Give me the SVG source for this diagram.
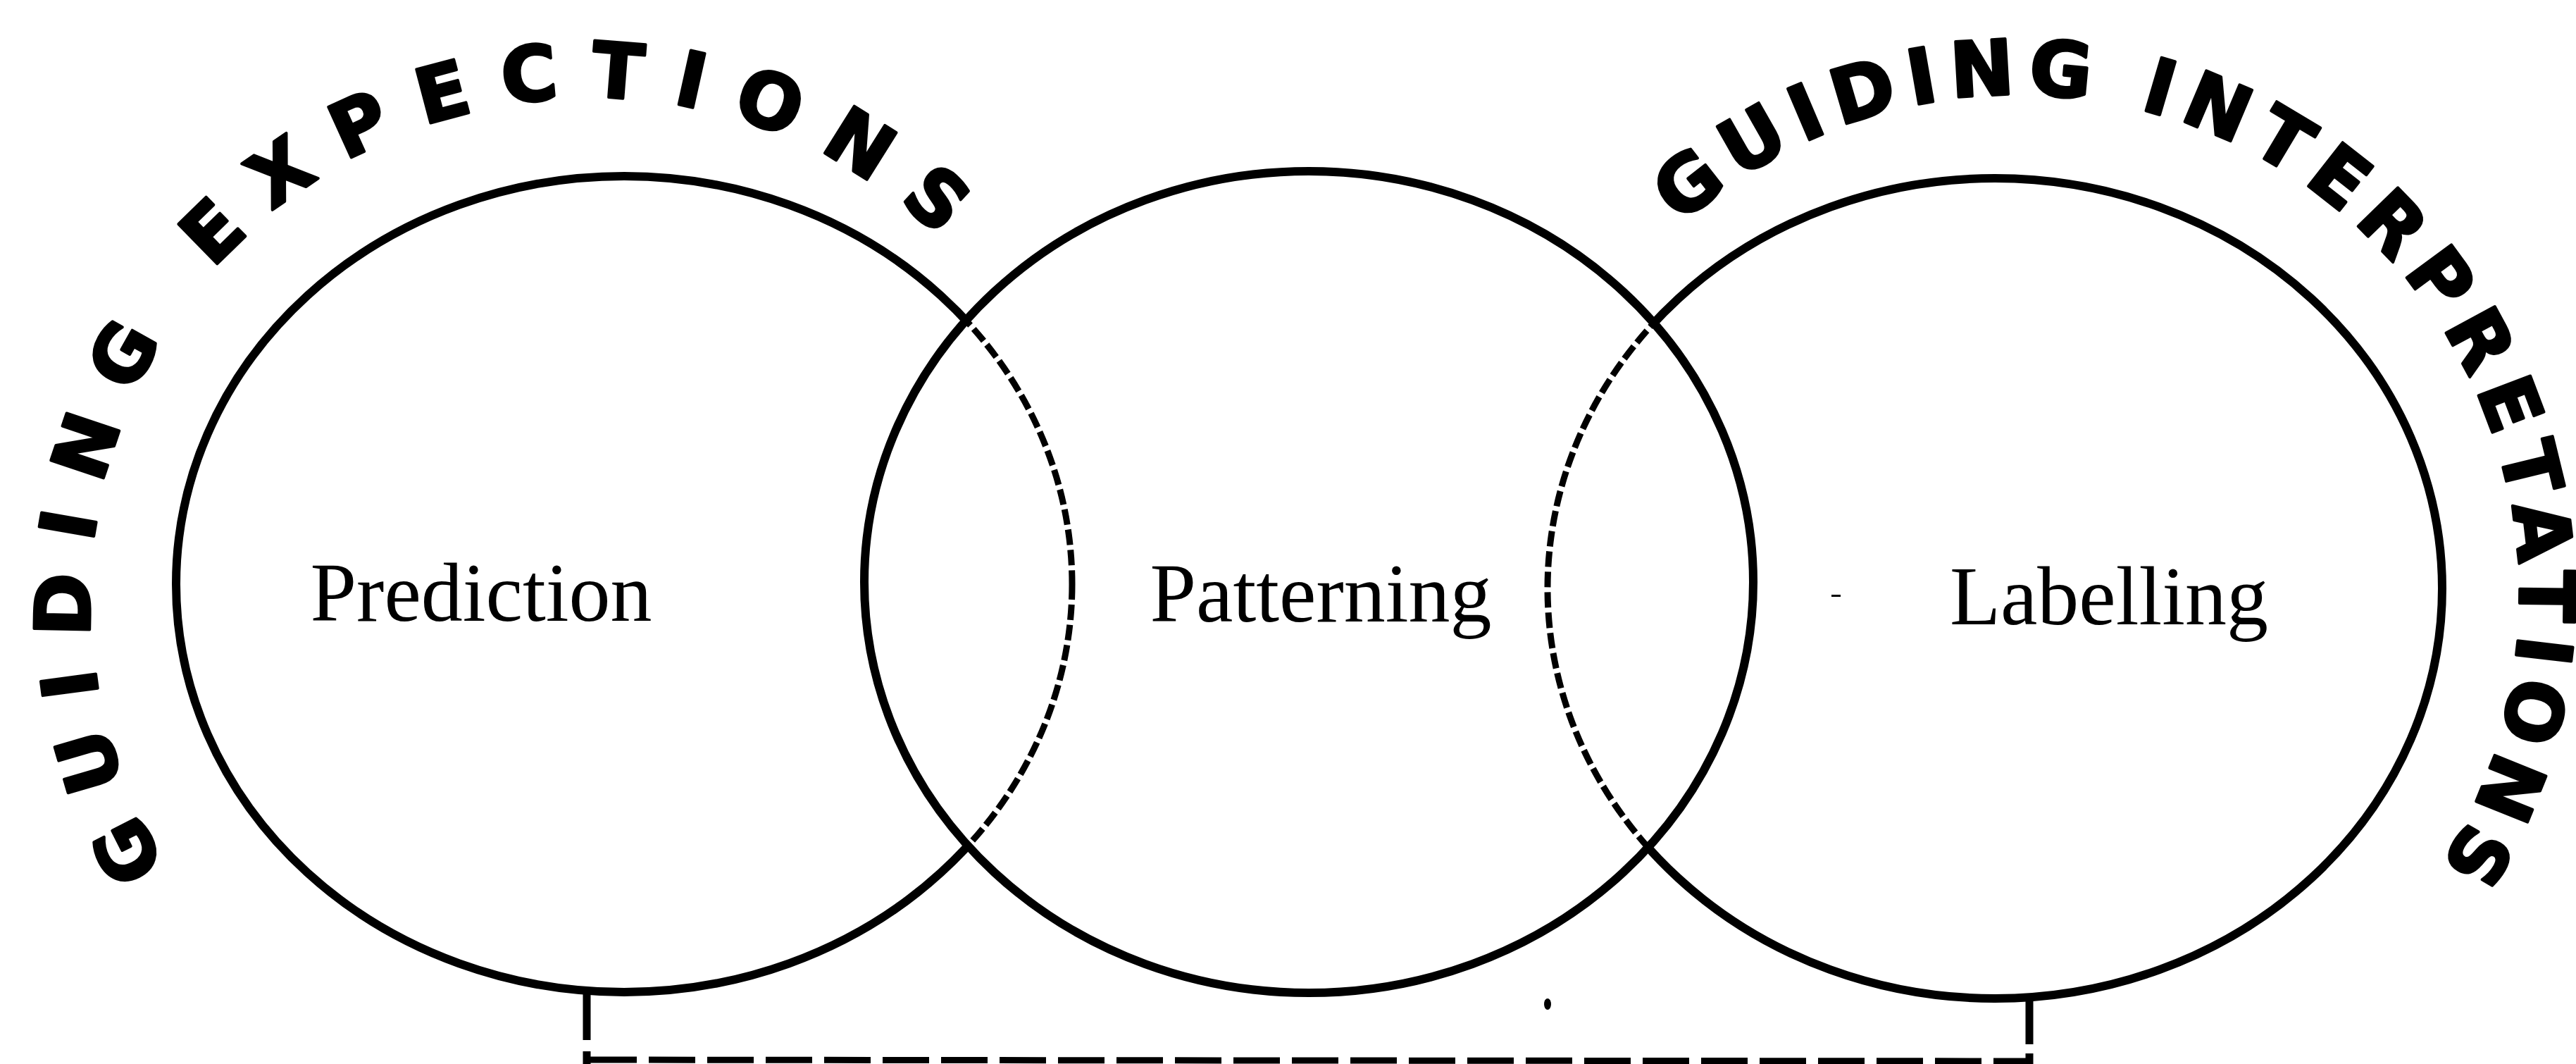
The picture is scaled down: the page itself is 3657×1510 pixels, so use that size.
<svg xmlns="http://www.w3.org/2000/svg" xmlns:xlink="http://www.w3.org/1999/xlink" width="3657" height="1510" viewBox="0 0 3657 1510">
  <style>
    .ring { fill: none; stroke: #000; stroke-width: 12; }
    .ring-dash { fill: none; stroke: #000; stroke-width: 9; stroke-dasharray: 22 7; }
    .label { font-family: "Liberation Serif", "Times New Roman", serif; font-size: 118px; fill: #000; text-anchor: middle; }
    .arc-text { font-family: "DejaVu Sans", "Liberation Sans", sans-serif; font-weight: bold; font-size: 108px; fill: #000; stroke: #000; stroke-width: 4; stroke-linejoin: round; }
    .bracket { fill: none; stroke: #000; stroke-width: 11; }
    .bracket-dash { fill: none; stroke: #000; stroke-width: 9; stroke-dasharray: 66 17; }
  </style>
  <defs>
    <clipPath id="inMid">
      <ellipse cx="1858" cy="826" rx="631" ry="583"/>
    </clipPath>
    <clipPath id="outMid">
      <path clip-rule="evenodd" d="M0,0 H3657 V1510 H0 Z M1227,826 a631,583 0 1,0 1262,0 a631,583 0 1,0 -1262,0 Z"/>
    </clipPath>
    <path id="arcLeft" d="M237.5,1229.4 A712,712 0 0,1 1423.2,441.6"/>
    <path id="arcRight" d="M2385.8,319.4 A712,712 0 0,1 3410.4,1303.7"/>
  </defs>

  <rect x="0" y="0" width="3657" height="1510" fill="#fff"/>

  <g id="node-prediction">
    <ellipse class="ring" cx="886" cy="829" rx="636" ry="579" clip-path="url(#outMid)"/>
    <ellipse class="ring-dash" cx="886" cy="829" rx="636" ry="579" clip-path="url(#inMid)"/>
    <text class="label" x="683" y="881">Prediction</text>
  </g>

  <g id="node-patterning">
    <ellipse class="ring" cx="1858" cy="826" rx="631" ry="583"/>
    <text class="label" x="1875" y="882">Patterning</text>
  </g>

  <g id="node-labelling">
    <ellipse class="ring" cx="2832" cy="835" rx="635" ry="582" clip-path="url(#outMid)"/>
    <ellipse class="ring-dash" cx="2832" cy="835" rx="635" ry="582" clip-path="url(#inMid)"/>
    <text class="label" x="2994" y="886">Labelling</text>
  </g>

  <g id="caption-expectations">
    <text class="arc-text" letter-spacing="43.3"><textPath xlink:href="#arcLeft" href="#arcLeft">GUIDING EXPECTIONS</textPath></text>
  </g>

  <g id="caption-interpretations">
    <text class="arc-text" letter-spacing="17"><textPath xlink:href="#arcRight" href="#arcRight">GUIDING INTERPRETATIONS</textPath></text>
  </g>

  <g id="connectors">
    <line class="bracket" x1="833" y1="1408" x2="833" y2="1476"/>
    <line class="bracket" x1="833" y1="1492" x2="833" y2="1510"/>
    <line class="bracket" x1="2881" y1="1417" x2="2881" y2="1482"/>
    <line class="bracket" x1="2881" y1="1495" x2="2881" y2="1510"/>
    <line class="bracket-dash" x1="838" y1="1504" x2="2876" y2="1506"/>
  </g>

  <g id="marks">
    <ellipse cx="2197" cy="1425" rx="5" ry="8" fill="#000"/>
    <rect x="2600" y="844" width="13" height="3" fill="#000"/>
  </g>
</svg>
